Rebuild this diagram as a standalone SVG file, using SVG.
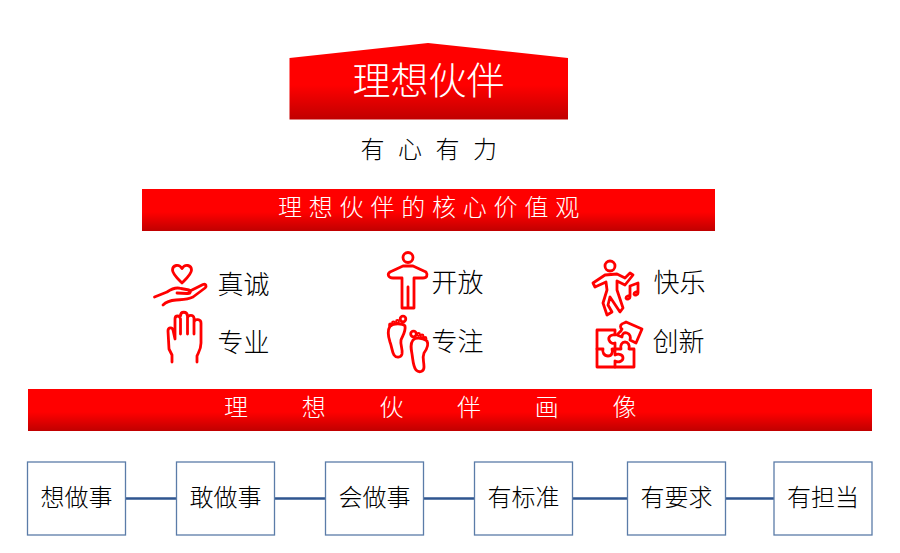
<svg xmlns="http://www.w3.org/2000/svg" width="900" height="553" viewBox="0 0 900 553">
<style>
text{font-family:"Noto Sans CJK SC","Noto Sans",sans-serif;font-weight:300;}
.w{fill:#fff;font-size:24px;}
.k{fill:#000;font-size:24px;}
.l{fill:#000;font-size:26px;}
.c{text-anchor:middle;}
.box{fill:#fff;stroke:#5b7ca8;stroke-width:1.3;}
.ic{fill:none;stroke:#f00;stroke-width:2.8;stroke-linecap:round;stroke-linejoin:round;}
.ln{stroke:#2f5590;stroke-width:2.5;fill:none;}
</style>
<defs>
<linearGradient id="g" x1="0" y1="0" x2="0" y2="1"><stop offset="0" stop-color="#f00"/><stop offset="0.55" stop-color="#f00"/><stop offset="1" stop-color="#c00000"/></linearGradient>
</defs>
<g id="title">
<path d="M289.500 58L428 43L568 58V119.500H289.500Z" fill="url(#g)"/>
<text x="428.500" y="93.500" class="c" fill="#fff" style="font-size:38px">理想伙伴</text>
</g>
<g id="subtitle"><text x="360.500" y="158" class="k" letter-spacing="13.500">有心有力</text></g>
<g id="values-banner">
<rect x="142" y="189" width="573" height="42" fill="url(#g)"/>
<text x="278" y="216" class="w" letter-spacing="6.800">理想伙伴的核心价值观</text>
</g>
<g id="zhencheng">
<path class="ic" d="M182 283C177 278 172.500 274 172.500 270C172.500 265 179 263.500 182 268.500C185 263.500 191.500 265 191.500 270C191.500 274 187 278 182 283Z"/>
<path class="ic" d="M154.500 297L167 292C172 288.500 176 287 181 288.500L189 290C191 291 191 294 187 293.500L177 293M189 291.500L203 284.500C206 283.500 207 286 205 288L193 297C187 300 181 299.500 176 300C170 300.500 166 302 163 305"/>
</g>
<g id="zhuanye">
<path class="ic" d="M172 362V355L169 349L168 331C168 327.500 172 326.500 173 330L175 339V319C175 315 180 315 180.500 319V334M180.500 316C180.500 311 187 311 187.500 316V334M187.500 318C188 314.500 193.500 314.500 194 318V334M194 322C195 318.500 201 319 201 323V343C201 350 198 353 197 356V362"/>
</g>
<g id="kaifang">
<circle class="ic" cx="408" cy="257.500" r="5"/>
<path class="ic" d="M402 308V278H393C388 278 387 274 390 272L403 266H413L426 272C428 275 427 278 423 278H414V308ZM408 308V287"/>
</g>
<g id="zhuanzhu">
<path class="ic" d="M390 326C387 331 388 336 390 342C392 347 392 352 394 355C396 358 401 358 402 354C403 349 400 345 401 340C403 335 406 331 405 326C403 323 393 323 390 326Z"/>
<circle class="ic" cx="403" cy="319" r="2.800"/><circle class="ic" cx="397.500" cy="321.500" r="1"/><circle class="ic" cx="393.500" cy="323" r="1"/><circle class="ic" cx="390.500" cy="325" r="1"/>
<path class="ic" d="M413 340C410 344 411 349 412 354C413 360 413 366 416 370C419 373 424 372 424 367C424 361 422 358 424 353C427 349 429 345 427 341C424 338 416 337 413 340Z"/>
<circle class="ic" cx="413.500" cy="334" r="2.800"/><circle class="ic" cx="418.500" cy="334.500" r="1"/><circle class="ic" cx="422" cy="336" r="1"/><circle class="ic" cx="425" cy="338.500" r="1"/>
</g>
<g id="kuaile">
<circle class="ic" cx="610" cy="266" r="5"/>
<path class="ic" d="M593 283L605 275L617 274L625 278L630 273L633 275L625 285L617 281L617 290L623 308L620 312L610 297L608 305L612 312L607 315L603 303L607 290L606 282L595 287Z"/>
<path class="ic" d="M630 297L630 286L638 283L638 293M630 297C629 295 626 296 626 298C627 300 630 299 630 297ZM638 293C637 291 634 292 634 294C635 296 638 295 638 293Z"/>
</g>
<g id="chuangxin">
<path class="ic" d="M597 330H615V335C611 334 608 337 609 340C610 343 613 344 615 343V349H621C620 345 622 342 625 342C628 342 630 345 629 349H634V367H597Z"/>
<path class="ic" d="M597 349H603C602 352 604 356 608 356C612 356 613 352 612 349H615V355C619 353 623 355 623 358C623 361 619 363 615 361V367"/>
<path class="ic" d="M626 322L642 329L636 343L630 340C631 337 630 334 627 333C624 332 622 334 622 337L617 335C618 333 621 332 622 329C620 328 620 325 622 324C623 323 625 323 626 322Z"/>
</g>
<g id="labels">
<text x="217.500" y="294" class="l">真诚</text>
<text x="217.500" y="352" class="l">专业</text>
<text x="431.500" y="292" class="l">开放</text>
<text x="431.500" y="351" class="l">专注</text>
<text x="653.500" y="292" class="l">快乐</text>
<text x="652.500" y="351" class="l">创新</text>
</g>
<g id="portrait-banner">
<rect x="28" y="389" width="844" height="42" fill="url(#g)"/>
<text x="224" y="416" class="w" letter-spacing="53.700">理想伙伴画像</text>
</g>
<g id="connectors">
<path class="ln" d="M126 498.500H176M275 498.500H325M423 498.500H474M572 498.500H627M726 498.500H774"/>
</g>
<g id="n1"><rect class="box" x="27.500" y="462" width="98" height="73"/><text x="76.500" y="506" class="k c">想做事</text></g>
<g id="n2"><rect class="box" x="176.500" y="462" width="98" height="73"/><text x="225.500" y="506" class="k c">敢做事</text></g>
<g id="n3"><rect class="box" x="325.500" y="462" width="98" height="73"/><text x="374.500" y="506" class="k c">会做事</text></g>
<g id="n4"><rect class="box" x="474.500" y="462" width="98" height="73"/><text x="523.500" y="506" class="k c">有标准</text></g>
<g id="n5"><rect class="box" x="627.500" y="462" width="98" height="73"/><text x="676.500" y="506" class="k c">有要求</text></g>
<g id="n6"><rect class="box" x="774" y="462" width="98" height="73"/><text x="823" y="506" class="k c">有担当</text></g>
</svg>
